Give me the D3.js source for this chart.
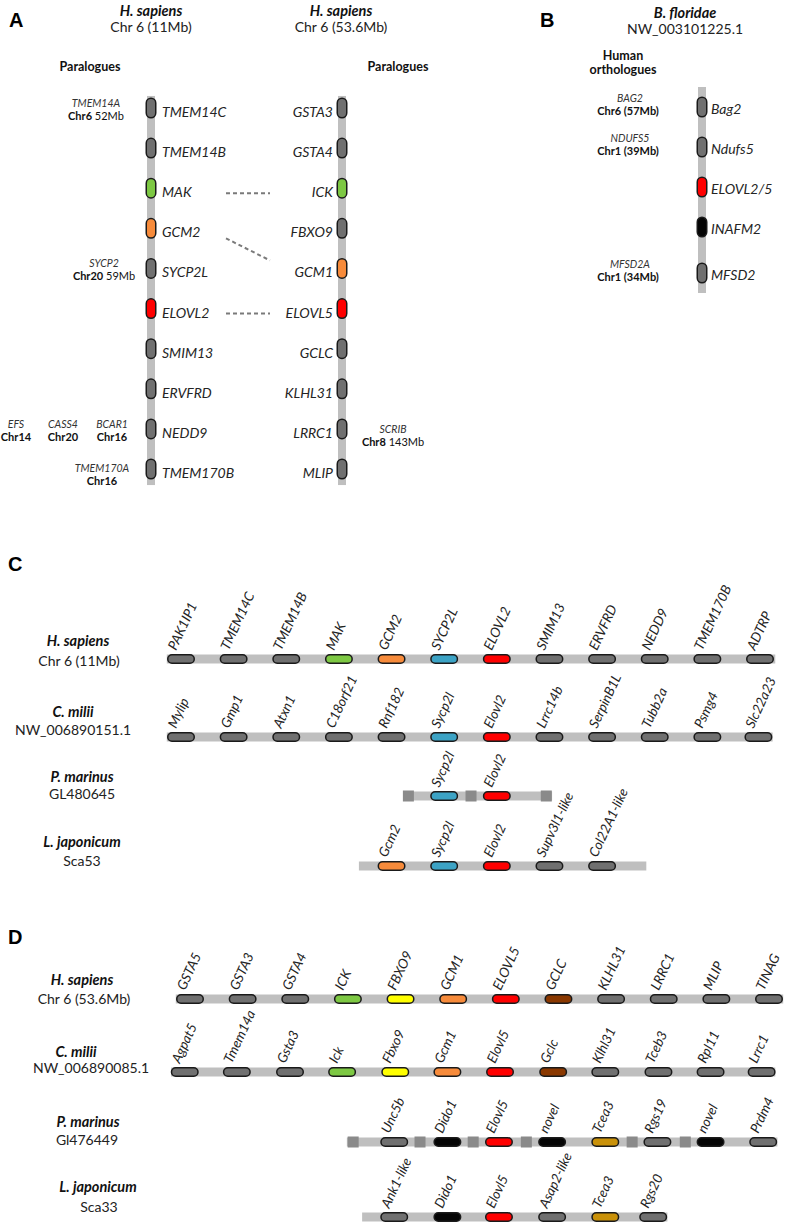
<!DOCTYPE html>
<html><head><meta charset="utf-8">
<script src="https://cdn.jsdelivr.net/npm/d3@7/dist/d3.min.js"></script>
<style>
body{margin:0;background:#fff;}
text{font-family:Lato,"Open Sans",sans-serif;fill:#242424;}
</style></head>
<body>
<script>
// ---------- DATA ----------
// Panel A
const aLeftTitle = ["H. sapiens", "Chr 6 (11Mb)"];
const aRightTitle = ["H. sapiens", "Chr 6 (53.6Mb)"];
const aLeftGenes = ["TMEM14C","TMEM14B","MAK","GCM2","SYCP2L","ELOVL2","SMIM13","ERVFRD","NEDD9","TMEM170B"];
const aLeftColors = ["gray","gray","green","orange","gray","red","gray","gray","gray","gray"];
const aRightGenes = ["GSTA3","GSTA4","ICK","FBXO9","GCM1","ELOVL5","GCLC","KLHL31","LRRC1","MLIP"];
const aRightColors = ["gray","gray","green","gray","orange","red","gray","gray","gray","gray"];
const aLinks = [[2,2],[3,4],[5,5]];
const aParaGenes = ["TMEM14A","SYCP2","EFS","CASS4","BCAR1","TMEM170A","SCRIB"];
const aParaChr = ["Chr6","Chr20","Chr14","Chr20","Chr16","Chr16","Chr8"];
const aParaMb = ["52Mb","59Mb","","","","","143Mb"];
const aParaRow = [0,4,8,8,8,9.1,8.12];

// Panel B
const bTitle = ["B. floridae","NW_003101225.1"];
const bGenes = ["Bag2","Ndufs5","ELOVL2/5","INAFM2","MFSD2"];
const bColors = ["gray","gray","red","black","gray"];
const bPos = [0,1,2,3,4.15];
const bOrthoGenes = ["BAG2","NDUFS5","MFSD2A"];
const bOrthoLoc = ["Chr6 (57Mb)","Chr1 (39Mb)","Chr1 (34Mb)"];
const bOrthoPos = [0,1,4.15];

// Panel C
const cSpecies = ["H. sapiens","C. milii","P. marinus","L. japonicum"];
const cScaffolds = ["Chr 6 (11Mb)","NW_006890151.1","GL480645","Sca53"];
const cGenes = [
  ["PAK1IP1","TMEM14C","TMEM14B","MAK","GCM2","SYCP2L","ELOVL2","SMIM13","ERVFRD","NEDD9","TMEM170B","ADTRP"],
  ["Mylip","Gmp1","Atxn1","C18orf21","Rnf182","Sycp2l","Elovl2","Lrrc14b","SerpinB1L","Tubb2a","Psmg4","Slc22a23"],
  ["Sycp2l","Elovl2"],
  ["Gcm2","Sycp2l","Elovl2","Supv3l1-like","Col22A1-like"]
];
const cColors = [
  ["gray","gray","gray","green","orange","blue","red","gray","gray","gray","gray","gray"],
  ["gray","gray","gray","gray","gray","blue","red","gray","gray","gray","gray","gray"],
  ["blue","red"],
  ["orange","blue","red","gray","gray"]
];
const cSlots = [
  [0,1,2,3,4,5,6,7,8,9,10,11],
  [0,1,2,3,4,5,6,7,8,9,10,10.97],
  [5,6],
  [4,5,6,7,8]
];
const cSpan = [[-0.27,11.29],[-0.27,11.24],[4.22,7.05],[3.38,8.84]];
const cGaps = [[],[],[4.32,5.51,6.94],[]];

// Panel D
const dSpecies = ["H. sapiens","C. milii","P. marinus","L. japonicum"];
const dScaffolds = ["Chr 6 (53.6Mb)","NW_006890085.1","Gl476449","Sca33"];
const dGenes = [
  ["GSTA5","GSTA3","GSTA4","ICK","FBXO9","GCM1","ELOVL5","GCLC","KLHL31","LRRC1","MLIP","TINAG"],
  ["Agpat5","Tmem14a","Gsta3","Ick","Fbxo9","Gcm1","Elovl5","Gclc","Klhl31","Tceb3","Rpl11","Lrrc1"],
  ["Unc5b","Dido1","Elovl5","novel","Tcea3","Rgs19","novel","Prdm4"],
  ["Ank1-like","Dido1","Elovl5","Asap2-like","Tcea3","Rgs20"]
];
const dColors = [
  ["gray","gray","gray","green","yellow","orange","red","brown","gray","gray","gray","gray"],
  ["gray","gray","gray","green","yellow","orange","red","brown","gray","gray","gray","gray"],
  ["gray","black","red","black","gold","gray","black","gray"],
  ["gray","black","red","gray","gold","gray"]
];
const dSlots = [
  [0,1,2,3,4,5,6,7,8,9,10,11],
  [-0.1,0.89,1.9,2.89,3.9,4.89,5.89,6.9,7.89,8.9,9.89,10.86],
  [3.88,4.89,5.87,6.88,7.89,8.88,9.89,10.89],
  [3.88,4.89,5.87,6.88,7.89,8.8]
];
const dSpan = [[-0.27,11.27],[-0.36,11.12],[2.98,11.16],[3.27,9.07]];
const dGaps = [[],[],[3.1,4.37,5.38,6.39,8.4,9.41],[]];

// ---------- STYLE / LAYOUT ----------
const palette = {gray:"#707070",green:"#7dc843",orange:"#f78b3b",red:"#ff0000",blue:"#3ca3c5",
                 yellow:"#ffff00",brown:"#8a3800",gold:"#c99109",black:"#050505"};
const barColor = "#bfbfbf", gapColor = "#8a8a8a", strokeCol = "#1a1a1a";

const W = 787, H = 1226;
const svg = d3.select("body").append("svg").attr("width",W).attr("height",H);
svg.append("rect").attr("width",W).attr("height",H).attr("fill","#fff");

function panelLetter(t,x,y){
  svg.append("text").attr("x",x).attr("y",y).text(t)
    .style("font-family","'Liberation Sans',Arial,sans-serif").style("font-weight","bold")
    .style("font-size","20px").style("fill","#000");
}
function title(lines,x,y1,y2){
  svg.append("text").attr("x",x).attr("y",y1).attr("text-anchor","middle").text(lines[0])
    .style("font-weight","bold").style("font-style","italic").style("font-size","14.5px").style("fill","#111");
  svg.append("text").attr("x",x).attr("y",y2).attr("text-anchor","middle").text(lines[1])
    .style("font-size","14px").style("fill","#222");
}

// ---------- PANEL A ----------
panelLetter("A",9,27);
title(aLeftTitle,151,16,32);
title(aRightTitle,341,16,32);
svg.append("text").attr("x",90).attr("y",71).attr("text-anchor","middle").text("Paralogues")
  .style("font-weight","bold").style("font-size","12.5px").style("fill","#111");
svg.append("text").attr("x",398).attr("y",71).attr("text-anchor","middle").text("Paralogues")
  .style("font-weight","bold").style("font-size","12.5px").style("fill","#111");

const yA = d3.scaleLinear().domain([0,9]).range([108,469]);
const aColX = [151,342];

function vChrom(x, yScale, lo, hi){
  svg.append("rect").attr("x",x-4).attr("width",8)
    .attr("y",yScale(lo)).attr("height",yScale(hi)-yScale(lo)).attr("fill",barColor);
}
function vPills(x, yScale, pos, colors){
  svg.append("g").selectAll("rect").data(pos).join("rect")
    .attr("x",x-4.75).attr("width",9.5)
    .attr("y",d=>yScale(d)-9.75).attr("height",19.5)
    .attr("rx",4.75).attr("ry",4.75)
    .attr("fill",(d,i)=>palette[colors[i]]).attr("stroke",strokeCol).attr("stroke-width",1.5);
}
vChrom(aColX[0], yA, -0.3, 9.4);
vChrom(aColX[1], yA, -0.3, 9.4);
const aIdx = d3.range(aLeftGenes.length);
vPills(aColX[0], yA, aIdx, aLeftColors);
vPills(aColX[1], yA, aIdx, aRightColors);

svg.append("g").selectAll("text").data(aLeftGenes).join("text")
  .attr("x",aColX[0]+11).attr("y",(d,i)=>yA(i)+9).text(d=>d)
  .style("font-style","italic").style("font-size","14px");
svg.append("g").selectAll("text").data(aRightGenes).join("text")
  .attr("x",aColX[1]-9).attr("y",(d,i)=>yA(i)+9).attr("text-anchor","end").text(d=>d)
  .style("font-style","italic").style("font-size","14px");

svg.append("g").selectAll("line").data(aLinks).join("line")
  .attr("x1",226).attr("x2",270)
  .attr("y1",d=>d[0]===d[1]? yA(d[0])+5 : yA(d[0])+10)
  .attr("y2",d=>d[0]===d[1]? yA(d[1])+5 : yA(d[1])-8)
  .attr("stroke","#7a7a7a").attr("stroke-width",2).attr("stroke-dasharray","4,3");

const aParaX = [96,104,16,63,112,102,393];
aParaGenes.forEach((g,i)=>{
  const y = yA(aParaRow[i]);
  svg.append("text").attr("x",aParaX[i]).attr("y",y-1).attr("text-anchor","middle").text(g)
    .style("font-style","italic").style("font-size","10.5px").style("fill","#333");
  const t = svg.append("text").attr("x",aParaX[i]).attr("y",y+12).attr("text-anchor","middle")
    .style("font-size","11px").style("fill","#111");
  t.append("tspan").text(aParaChr[i]).style("font-weight","bold");
  if(aParaMb[i]) t.append("tspan").text(" "+aParaMb[i]);
});

// ---------- PANEL B ----------
panelLetter("B",540,27);
title(bTitle,685,18,34);
svg.append("text").attr("x",623).attr("y",60).attr("text-anchor","middle").text("Human")
  .style("font-weight","bold").style("font-size","12.5px").style("fill","#111");
svg.append("text").attr("x",623).attr("y",74).attr("text-anchor","middle").text("orthologues")
  .style("font-weight","bold").style("font-size","12.5px").style("fill","#111");
const yB = d3.scaleLinear().domain([0,1]).range([107,147]);
const bX = 702;
vChrom(bX, yB, -0.5, 4.65);
vPills(bX, yB, bPos, bColors);
svg.append("g").selectAll("text").data(bGenes).join("text")
  .attr("x",bX+9).attr("y",(d,i)=>yB(bPos[i])+7).text(d=>d)
  .style("font-style","italic").style("font-size","14px");
bOrthoGenes.forEach((g,i)=>{
  const y = yB(bOrthoPos[i]);
  svg.append("text").attr("x",630).attr("y",y-5).attr("text-anchor","middle").text(g)
    .style("font-style","italic").style("font-size","10.5px").style("fill","#333");
  svg.append("text").attr("x",628).attr("y",y+8).attr("text-anchor","middle").text(bOrthoLoc[i])
    .style("font-weight","bold").style("font-size","11px").style("fill","#111");
});

// ---------- PANELS C & D (horizontal tracks) ----------
function track(xScale, barY, species, scaffold, lx, ny, sx, sy, genes, colors, slots, span, gaps){
  svg.append("text").attr("x",lx).attr("y",ny).attr("text-anchor","middle").text(species)
    .style("font-weight","bold").style("font-style","italic").style("font-size","14.5px").style("fill","#111");
  svg.append("text").attr("x",sx).attr("y",sy).attr("text-anchor","middle").text(scaffold)
    .style("font-size","14px").style("fill","#222");
  svg.append("rect").attr("x",xScale(span[0])).attr("width",xScale(span[1])-xScale(span[0]))
    .attr("y",barY-4.5).attr("height",9).attr("fill",barColor);
  svg.append("g").selectAll("rect").data(gaps).join("rect")
    .attr("x",d=>xScale(d)-5.5).attr("width",11).attr("y",barY-5.5).attr("height",11).attr("fill",gapColor);
  svg.append("g").selectAll("rect").data(slots).join("rect")
    .attr("x",d=>xScale(d)-13.25).attr("width",26.5).attr("y",barY-4.25).attr("height",8.5)
    .attr("rx",4.25).attr("ry",4.25)
    .attr("fill",(d,i)=>palette[colors[i]]).attr("stroke",strokeCol).attr("stroke-width",1.5);
  svg.append("g").selectAll("text").data(genes).join("text")
    .attr("transform",(d,i)=>`translate(${xScale(slots[i])-5},${barY-8}) rotate(-65)`)
    .text(d=>d).style("font-style","italic").style("font-size","13.5px");
}

panelLetter("C",8,571);
const xC = d3.scaleLinear().domain([0,11]).range([181,760]);
const cBarY = [659,737,796,866];
const cLab = [[78,646,79,666],[73,717,73,735],[82,782,82,799],[82,847,82,866]];
cSpecies.forEach((s,i)=>track(xC,cBarY[i],s,cScaffolds[i],cLab[i][0],cLab[i][1],cLab[i][2],cLab[i][3],
  cGenes[i],cColors[i],cSlots[i],cSpan[i],cGaps[i]));

panelLetter("D",8,944);
const xD = d3.scaleLinear().domain([0,11]).range([190,769]);
const dBarY = [999,1072,1142,1217];
const dLab = [[82,985,84,1004],[76,1057,91,1073],[88,1127,87,1145],[98,1192,99,1212]];
dSpecies.forEach((s,i)=>track(xD,dBarY[i],s,dScaffolds[i],dLab[i][0],dLab[i][1],dLab[i][2],dLab[i][3],
  dGenes[i],dColors[i],dSlots[i],dSpan[i],dGaps[i]));
</script>
</body></html>
